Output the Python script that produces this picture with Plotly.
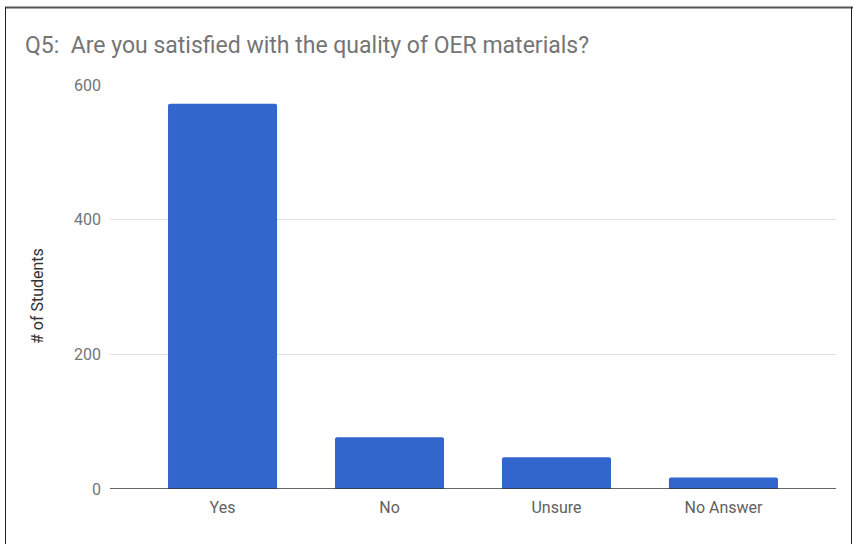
import plotly.graph_objects as go

categories = ["Yes", "No", "Unsure", "No Answer"]
students = [572, 77, 47, 17]
y_ticks = [0, 200, 400, 600]

W, H = 853, 544
L, R, T, B = 110, 17, 85, 55
pw, ph = W - L - R, H - T - B

def px_x(x):
    return (x - L) / pw

def px_y(y):
    return (H - B - y) / ph

fig = go.Figure(go.Bar(
    x=categories, y=students, marker=dict(color="#3366CC", line=dict(width=0), cornerradius=2),
    width=0.653, hoverinfo="skip",
))

fig.update_layout(
    width=W, height=H,
    margin=dict(l=L, r=R, t=T, b=B),
    paper_bgcolor="white", plot_bgcolor="white",
    font=dict(family="Roboto", color="#757575", size=16),
    title=dict(text="Q5:  Are you satisfied with the quality of OER materials?",
               x=25 / W, xanchor="left", xref="container",
               y=1 - 45 / H, yanchor="middle", yref="container",
               font=dict(family="Roboto", size=23, color="#757575")),
    showlegend=False,
)
fig.update_xaxes(range=[-0.674, 3.674], showgrid=False, showline=False, zeroline=False,
                 ticks="", ticklabelstandoff=7, tickfont=dict(size=16, color="#616161"))
fig.update_yaxes(range=[0, 600], tickvals=y_ticks, showgrid=True, gridcolor="#e0e0e0", gridwidth=1,
                 zeroline=False, showline=False, ticks="", ticklabelstandoff=8,
                 tickfont=dict(size=16, color="#757575"))

# baseline axis line
fig.add_shape(type="line", xref="paper", yref="y", x0=0, x1=1, y0=0, y1=0,
              line=dict(color="#333333", width=1.5))

fig.add_annotation(text="# of Students", xref="paper", yref="paper",
                   x=px_x(37), y=px_y(296), xanchor="center", yanchor="middle",
                   textangle=-90, showarrow=False,
                   font=dict(family="Roboto", size=16, color="#333333"))

# outer frame
fig.add_shape(type="line", xref="paper", yref="paper", x0=px_x(5), x1=px_x(853), y0=px_y(7.5), y1=px_y(7.5),
              line=dict(color="#555555", width=2))
fig.add_shape(type="line", xref="paper", yref="paper", x0=px_x(5.5), x1=px_x(5.5), y0=px_y(7), y1=px_y(560),
              line=dict(color="#222222", width=1))
fig.add_shape(type="line", xref="paper", yref="paper", x0=px_x(851.5), x1=px_x(851.5), y0=px_y(7), y1=px_y(560),
              line=dict(color="#222222", width=1))

fig.write_html("out.html", config={"displayModeBar": False},
               post_script="document.body.style.margin='0';")
